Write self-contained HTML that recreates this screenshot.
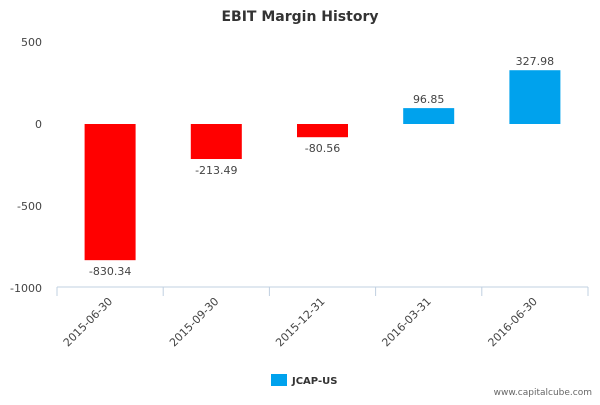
<!DOCTYPE html>
<html><head><meta charset="utf-8"><style>
body{margin:0;background:#fff;}
svg{font-family:"DejaVu Sans","Liberation Sans",sans-serif;}
</style></head><body>
<svg id="c" width="600" height="400" xmlns="http://www.w3.org/2000/svg">
<text x="300" y="21" text-anchor="middle" font-size="14" font-weight="bold" fill="#333">EBIT Margin History</text>
<g id="plot"></g>
<rect x="271" y="374" width="16" height="12" fill="#00a2ed"/>
<text x="292" y="384" font-size="10" font-weight="bold" fill="#333">JCAP-US</text>
<text x="592" y="395" text-anchor="end" font-size="9" fill="#666">www.capitalcube.com</text>
</svg>
<script>
const categories=["2015-06-30","2015-09-30","2015-12-31","2016-03-31","2016-06-30"];
const values=[-830.34,-213.49,-80.56,96.85,327.98];
const valueLabels=["-830.34","-213.49","-80.56","96.85","327.98"];
const yTicks=[500,0,-500,-1000];
const yTickLabels=["500","0","-500","-1000"];
const NS="http://www.w3.org/2000/svg";
const g=document.getElementById("plot");
const x0=57,x1=588,bw=(x1-x0)/categories.length;
function y(v){return 124-v*(164/1000);}
function xc(i){return x0+bw*(i+0.5);}
function mk(t,a){const e=document.createElementNS(NS,t);for(const k in a)e.setAttribute(k,a[k]);g.appendChild(e);return e;}
yTicks.forEach((t,i)=>{
  const e=mk("text",{x:42,y:y(t)+4,"text-anchor":"end","font-size":11,fill:"#444"});
  e.textContent=yTickLabels[i];
  
  
});
const ax=mk("line",{x1:x0,x2:x1,y1:y(-1000)-1,y2:y(-1000)-1,stroke:"#c0d0e0","stroke-width":1});


for(let i=0;i<=categories.length;i++){
  const tk=mk("line",{x1:x0+bw*i,x2:x0+bw*i,y1:y(-1000)-1,y2:y(-1000)+8,stroke:"#c0d0e0"});
  
  
}
categories.forEach((c,i)=>{
  const v=values[i],cx=xc(i),w=51;
  const top=Math.min(y(v),y(0)),h=Math.abs(y(v)-y(0));
  const r=mk("rect",{x:cx-w/2,y:top,width:w,height:h,fill:v<0?"#ff0000":"#00a2ed"});
  
  
  const ly=v<0?y(v)+15:y(v)-5;
  const l=mk("text",{x:cx,y:ly,"text-anchor":"middle","font-size":11,fill:"#444"});
  l.textContent=valueLabels[i];
  
  
  const tx=cx+3,ty=y(-1000)+14;
  const xl=mk("text",{x:tx,y:ty,"text-anchor":"end","font-size":11,fill:"#444",transform:`rotate(-45 ${tx} ${ty})`});
  xl.textContent=c;
  
  
});
</script>
</body></html>
